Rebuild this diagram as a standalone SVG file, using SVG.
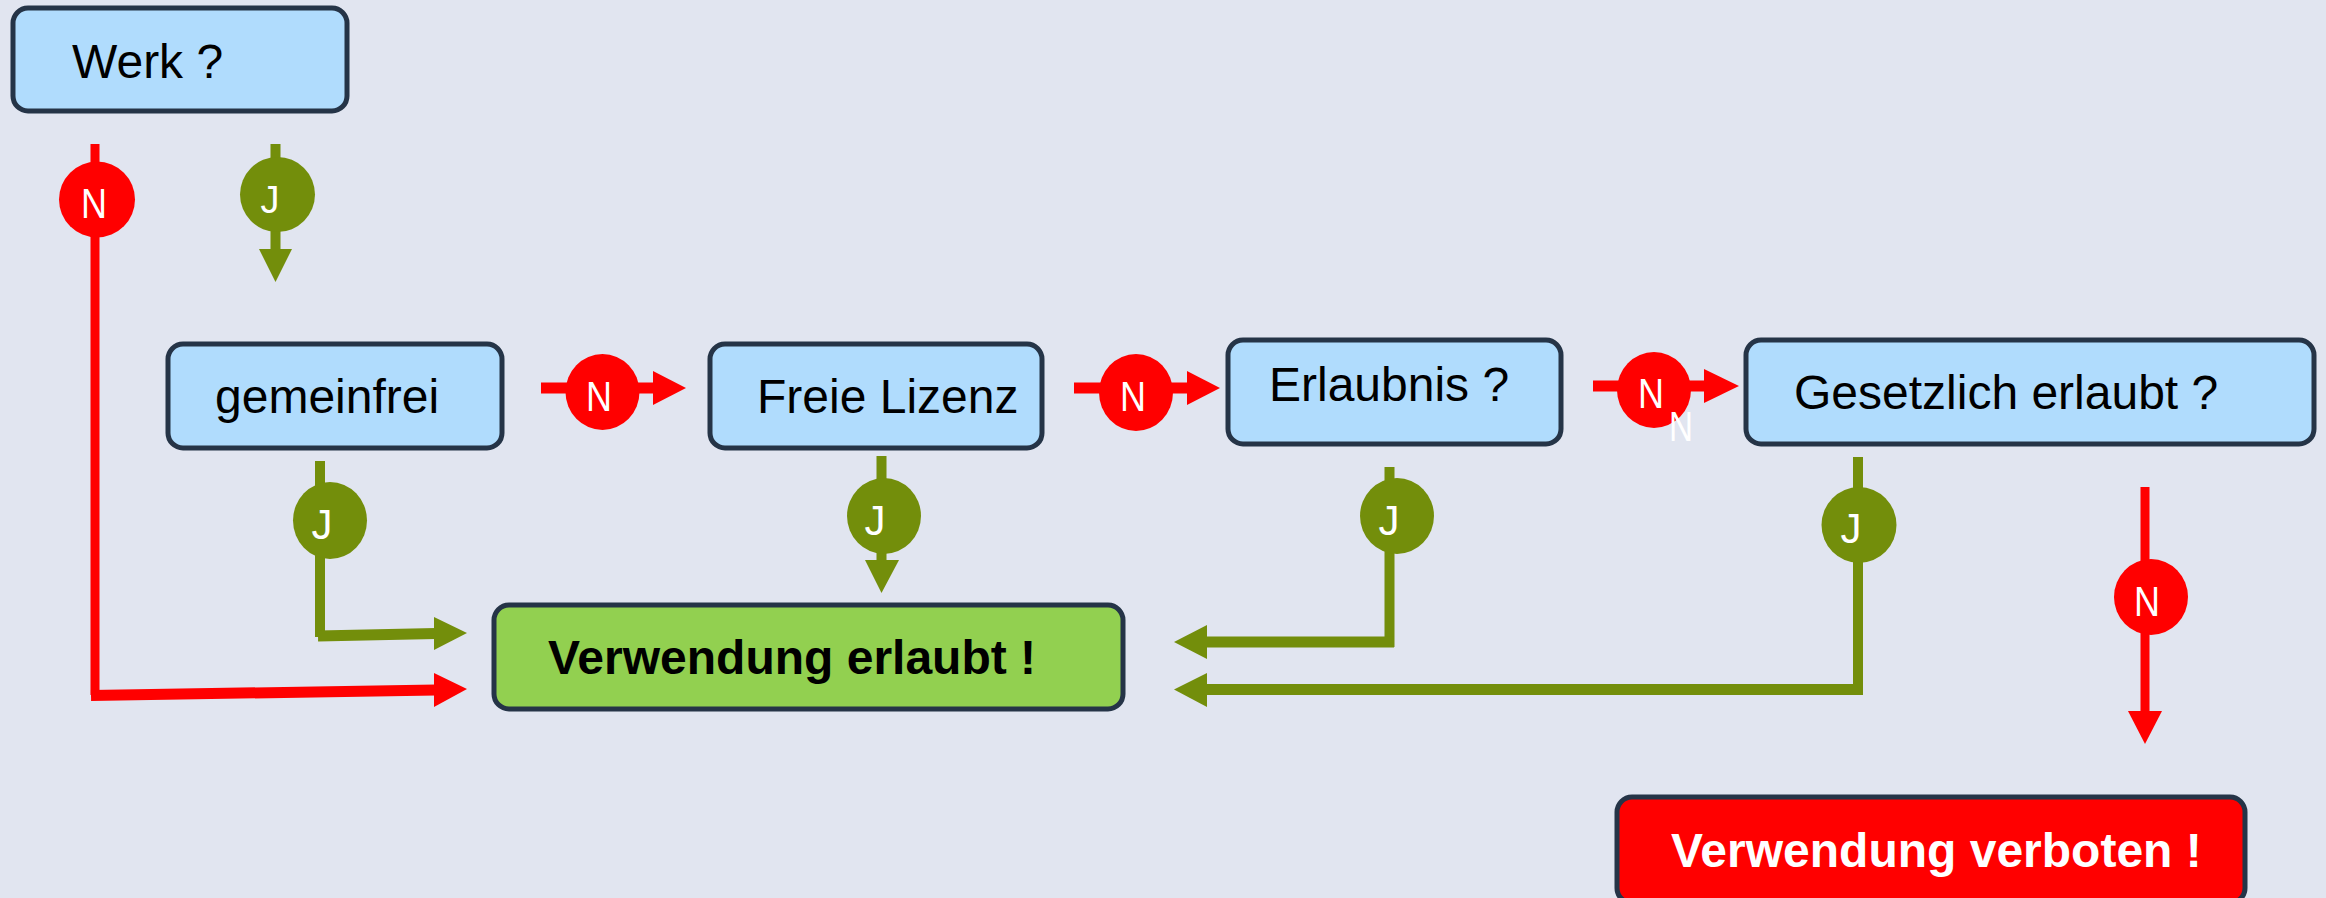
<svg xmlns="http://www.w3.org/2000/svg" width="2326" height="898" viewBox="0 0 2326 898">
<style>
.q{fill:#b0dcfd;stroke:#253447;stroke-width:5}
.t{font-family:"Liberation Sans",Arial,sans-serif;font-size:48px;fill:#000}
.b{font-weight:bold}
.lbl{font-family:"Liberation Sans",Arial,sans-serif;font-size:42px;fill:#fff;text-anchor:middle}
.g{stroke:#738e0b;stroke-width:10;fill:none}
.gh{stroke:#738e0b;stroke-width:11;fill:none}
.r{stroke:#ff0000;stroke-width:9;fill:none}
.rh{stroke:#ff0000;stroke-width:11;fill:none}
.gf{fill:#738e0b}
.rf{fill:#ff0000}
</style>
<rect width="2326" height="898" fill="#e1e5f0"/>
<g id="connectors">
  <g id="c-werk-n">
    <polyline class="r" points="95,144 95,695"/>
    <line class="rh" x1="91" y1="695.5" x2="436" y2="690"/>
    <polygon class="rf" points="434,673 467,689 434,707"/>
    <ellipse class="rf" cx="97" cy="199.5" rx="38" ry="38"/>
    <text class="lbl" x="94" y="218" textLength="26" lengthAdjust="spacingAndGlyphs">N</text>
  </g>
  <g id="c-werk-j">
    <line class="g" x1="275.5" y1="144" x2="275.5" y2="251"/>
    <polygon class="gf" points="259,249 292,249 275.5,282"/>
    <ellipse class="gf" cx="277.5" cy="194.5" rx="37.5" ry="37.5"/>
    <text class="lbl" x="270" y="213" style="font-size:38px">J</text>
  </g>
  <g id="c-gem-n">
    <line class="rh" x1="541" y1="388" x2="655" y2="388"/>
    <polygon class="rf" points="653,371 686,388 653,405"/>
    <ellipse class="rf" cx="602.5" cy="392" rx="37" ry="38"/>
    <text class="lbl" x="599" y="411" textLength="26" lengthAdjust="spacingAndGlyphs">N</text>
  </g>
  <g id="c-gem-j">
    <line class="g" x1="320" y1="461" x2="320" y2="637"/>
    <line class="gh" x1="318" y1="636" x2="436" y2="633.5"/>
    <polygon class="gf" points="434,617 467,633 434,650"/>
    <ellipse class="gf" cx="330" cy="520.5" rx="37" ry="38.5"/>
    <text class="lbl" x="322" y="539">J</text>
  </g>
  <g id="c-frei-n">
    <line class="rh" x1="1074" y1="388" x2="1189" y2="388"/>
    <polygon class="rf" points="1187,371 1220,388 1187,405"/>
    <ellipse class="rf" cx="1136" cy="392.5" rx="37" ry="38.5"/>
    <text class="lbl" x="1133" y="411" textLength="26" lengthAdjust="spacingAndGlyphs">N</text>
  </g>
  <g id="c-frei-j">
    <line class="g" x1="881.5" y1="456" x2="881.5" y2="562"/>
    <polygon class="gf" points="865,560 899,560 881.5,593"/>
    <ellipse class="gf" cx="884" cy="516" rx="37" ry="38"/>
    <text class="lbl" x="875" y="535">J</text>
  </g>
  <g id="c-erl-n">
    <line class="rh" x1="1593" y1="386" x2="1706" y2="386"/>
    <polygon class="rf" points="1704,369 1739,386 1704,403"/>
    <ellipse class="rf" cx="1654" cy="390" rx="37" ry="38"/>
    <text class="lbl" x="1651" y="408" textLength="26" lengthAdjust="spacingAndGlyphs">N</text>
    <text class="lbl" x="1681" y="441" textLength="24" lengthAdjust="spacingAndGlyphs">N</text>
  </g>
  <g id="c-erl-j">
    <line class="g" x1="1389.5" y1="467" x2="1389.5" y2="647"/>
    <line class="gh" x1="1394" y1="642" x2="1205" y2="642"/>
    <polygon class="gf" points="1207,625 1174,642 1207,659"/>
    <ellipse class="gf" cx="1397" cy="516" rx="37" ry="38"/>
    <text class="lbl" x="1389" y="535">J</text>
  </g>
  <g id="c-ges-j">
    <line class="g" x1="1858" y1="457" x2="1858" y2="694"/>
    <line class="gh" x1="1863" y1="689.5" x2="1205" y2="689.5"/>
    <polygon class="gf" points="1207,673 1174,689.5 1207,707"/>
    <ellipse class="gf" cx="1859" cy="525" rx="37.5" ry="38"/>
    <text class="lbl" x="1851" y="543">J</text>
  </g>
  <g id="c-ges-n">
    <line class="r" x1="2145" y1="487" x2="2145" y2="713"/>
    <polygon class="rf" points="2128,711 2162,711 2145,744"/>
    <ellipse class="rf" cx="2151" cy="597" rx="37" ry="38"/>
    <text class="lbl" x="2147" y="616" textLength="26" lengthAdjust="spacingAndGlyphs">N</text>
  </g>
</g>
<g id="n-werk">
  <rect class="q" x="13" y="8" width="334" height="103" rx="15"/>
  <text class="t" x="72" y="78">Werk ?</text>
</g>
<g id="n-gemeinfrei">
  <rect class="q" x="168" y="344" width="334" height="104" rx="15"/>
  <text class="t" x="215" y="413">gemeinfrei</text>
</g>
<g id="n-freie">
  <rect class="q" x="710" y="344" width="332" height="104" rx="15"/>
  <text class="t" x="757" y="413">Freie Lizenz</text>
</g>
<g id="n-erlaubnis">
  <rect class="q" x="1228" y="340" width="333" height="104" rx="15"/>
  <text class="t" x="1269" y="401">Erlaubnis ?</text>
</g>
<g id="n-gesetzlich">
  <rect class="q" x="1746" y="340" width="568" height="104" rx="15"/>
  <text class="t" x="1794" y="409">Gesetzlich erlaubt ?</text>
</g>
<g id="n-erlaubt">
  <rect x="494" y="605" width="629" height="104" rx="15" fill="#92d050" stroke="#253447" stroke-width="5"/>
  <text class="t b" x="548" y="674">Verwendung erlaubt !</text>
</g>
<g id="n-verboten">
  <rect x="1617" y="797" width="628" height="106" rx="15" fill="#ff0000" stroke="#253447" stroke-width="5"/>
  <text class="t b" x="1671" y="867" style="fill:#fff">Verwendung verboten !</text>
</g>
</svg>
